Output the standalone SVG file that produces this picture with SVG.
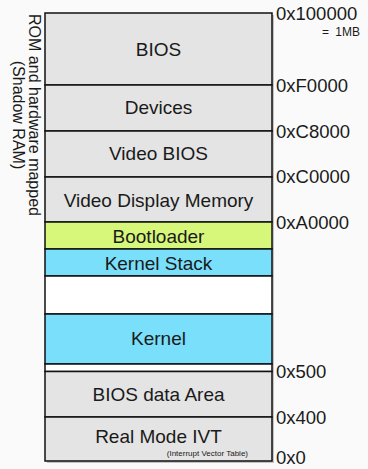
<svg xmlns="http://www.w3.org/2000/svg" width="368" height="469" viewBox="0 0 368 469">
<style>
.r{stroke:#111;stroke-width:1.5}
.g{fill:#e4e4e4}
.y{fill:#d6f77a}
.b{fill:#79dffb}
.w{fill:#ffffff}
.t{font-family:"Liberation Sans",Arial,sans-serif;font-size:19px;fill:#1a1a1a;text-anchor:middle}
.a{font-family:"Liberation Sans",Arial,sans-serif;font-size:18.5px;fill:#1a1a1a}
.s{font-family:"Liberation Sans",Arial,sans-serif;fill:#1a1a1a}
</style>
<rect width="368" height="469" fill="#fafafa"/>
<rect x="47" y="15" width="227" height="448" fill="#c4c4c4"/>
<g id="bios"><rect class="r g" x="45" y="13" width="227" height="72"/><text class="t" x="158.5" y="56">BIOS</text></g>
<g id="devices"><rect class="r g" x="45" y="85" width="227" height="46"/><text class="t" x="158.5" y="114">Devices</text></g>
<g id="video-bios"><rect class="r g" x="45" y="131" width="227" height="46"/><text class="t" x="158.5" y="160">Video BIOS</text></g>
<g id="video-display-memory"><rect class="r g" x="45" y="177" width="227" height="45"/><text class="t" x="158.5" y="206.5">Video Display Memory</text></g>
<g id="bootloader"><rect class="r y" x="45" y="222" width="227" height="27"/><text class="t" x="158.5" y="242.5">Bootloader</text></g>
<g id="kernel-stack"><rect class="r b" x="45" y="249" width="227" height="27"/><text class="t" x="158.5" y="270">Kernel Stack</text></g>
<g id="free"><rect class="r w" x="45" y="276" width="227" height="38"/></g>
<g id="kernel"><rect class="r b" x="45" y="314" width="227" height="50"/><text class="t" x="158.5" y="344.5">Kernel</text></g>
<g id="gap"><rect class="r w" x="45" y="364" width="227" height="7.5"/></g>
<g id="bios-data-area"><rect class="r g" x="45" y="371.5" width="227" height="45.5"/><text class="t" x="158.5" y="400.5">BIOS data Area</text></g>
<g id="real-mode-ivt"><rect class="r g" x="45" y="417" width="227" height="44"/><text class="t" x="158.5" y="443">Real Mode IVT</text><text class="s" x="248" y="456" font-size="8" text-anchor="end">(Interrupt Vector Table)</text></g>
<g id="addresses">
<text class="a" x="276" y="20">0x100000</text>
<text class="s" x="360" y="36" font-size="12" word-spacing="3" text-anchor="end">= 1MB</text>
<text class="a" x="276" y="92">0xF0000</text>
<text class="a" x="276" y="138">0xC8000</text>
<text class="a" x="276" y="183">0xC0000</text>
<text class="a" x="276" y="229">0xA0000</text>
<text class="a" x="276" y="378">0x500</text>
<text class="a" x="276" y="424">0x400</text>
<text class="a" x="276" y="464">0x0</text>
</g>
<g id="rom-label" transform="translate(0,115) rotate(90)">
<text class="s" font-size="16" text-anchor="middle" x="0" y="-29">ROM and hardware mapped</text>
<text class="s" font-size="16" text-anchor="middle" x="0" y="-13">(Shadow RAM)</text>
</g>
</svg>
